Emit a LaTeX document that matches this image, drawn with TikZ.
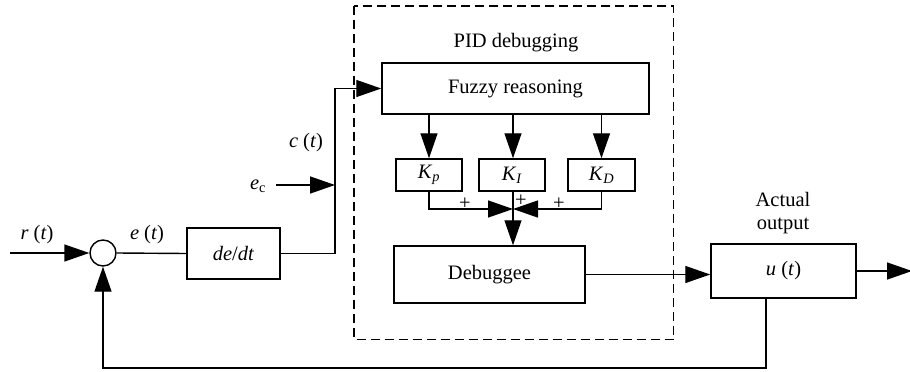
\documentclass[tikz,border=0pt]{standalone}
\usepackage{fontspec}
\setmainfont{Liberation Serif}
\usetikzlibrary{arrows.meta}
\newcommand{\ivar}[1]{\textit{#1}}
\begin{document}
\begin{tikzpicture}[x=1pt,y=-1pt,
  font=\fontsize{20.5}{23}\selectfont,
  line width=1.4pt,
  box/.style={draw, rectangle, inner sep=0pt, line width=1.5pt},
  arr/.style={-{Triangle[length=25pt,width=17pt]}},
  lab/.style={inner sep=0pt}]
\useasboundingbox (0,0) rectangle (910,372);

% dashed frame
\draw[dashed, dash pattern=on 9pt off 5pt, line width=1.4pt] (354,6) rectangle (673.5,339.5);
\node[lab] (pid) at (516,43) {PID debugging};

% blocks
\node[box, minimum width=267pt, minimum height=51pt] (fuzzy) at (515.5,88.5) {Fuzzy reasoning};
\node[box, minimum width=66pt, minimum height=32pt] (kp) at (429,175) {\ivar{K}\textsubscript{\ivar{p}}};
\node[box, minimum width=66pt, minimum height=32pt] (ki) at (512,175) {\ivar{K}\textsubscript{\ivar{I}}};
\node[box, minimum width=67pt, minimum height=32pt] (kd) at (601.5,175) {\ivar{K}\textsubscript{\ivar{D}}};
\node[box, minimum width=191pt, minimum height=57pt] (deb) at (489.5,274.5) {Debuggee};
\node[box, minimum width=145pt, minimum height=54pt] (u) at (783.5,271) {\ivar{u} (\ivar{t})};
\node[box, minimum width=93pt, minimum height=51pt] (dedt) at (233.5,253.5) {\ivar{de}/\ivar{dt}};
\node[draw, circle, minimum size=26pt, inner sep=0pt, line width=1.4pt] (sum) at (103,253) {};

% labels
\node[lab] (rt) at (37,235) {\ivar{r} (\ivar{t})};
\node[lab] (et) at (147,235) {\ivar{e} (\ivar{t})};
\node[lab] (ct) at (306,143) {\ivar{c} (\ivar{t})};
\node[lab] (ec) at (258,186) {\ivar{e}\textsubscript{c}};
\node[lab, align=center] (act) at (783,213) {Actual\\output};
\node[lab] (p1) at (465,204) {+};
\node[lab] (p2) at (521,201) {+};
\node[lab] (p3) at (559,204) {+};

% coordinates
\coordinate (in) at (10,253);
\coordinate (c1) at (335,253.5);
\coordinate (c2) at (335,88.5);
\coordinate (J) at (513,209);
\coordinate (out) at (912,271);
\coordinate (fbtop) at (766,298);
\coordinate (fbcorner) at (766,368);
\coordinate (ecstart) at (276,185);
\coordinate (ecend) at (335,185);

% connectors
\draw[arr] (in) -- (sum.west);
\draw (sum.east) -- (dedt.west);
\draw[arr] (dedt.east) -- (c1) -- (c2) -- (fuzzy.west);
\draw[arr] (ecstart) -- (ecend);
\draw[arr] (fuzzy.south -| kp) -- (kp.north);
\draw[arr] (fuzzy.south -| J) -- (J |- ki.north);
\draw[arr] (fuzzy.south -| kd) -- (kd.north);
\draw[arr] (kp.south) |- (J);
\draw[arr] (kd.south) |- (J);
\draw (J |- ki.south) -- (J);
\draw[arr] (J) -- (J |- deb.north);
\draw[arr] (deb.east) -- (deb.east -| u.west);
\draw[arr] (u.east) -- (out);
\draw[arr] (fbtop) -- (fbcorner) -| (sum.south);
\end{tikzpicture}
\end{document}
